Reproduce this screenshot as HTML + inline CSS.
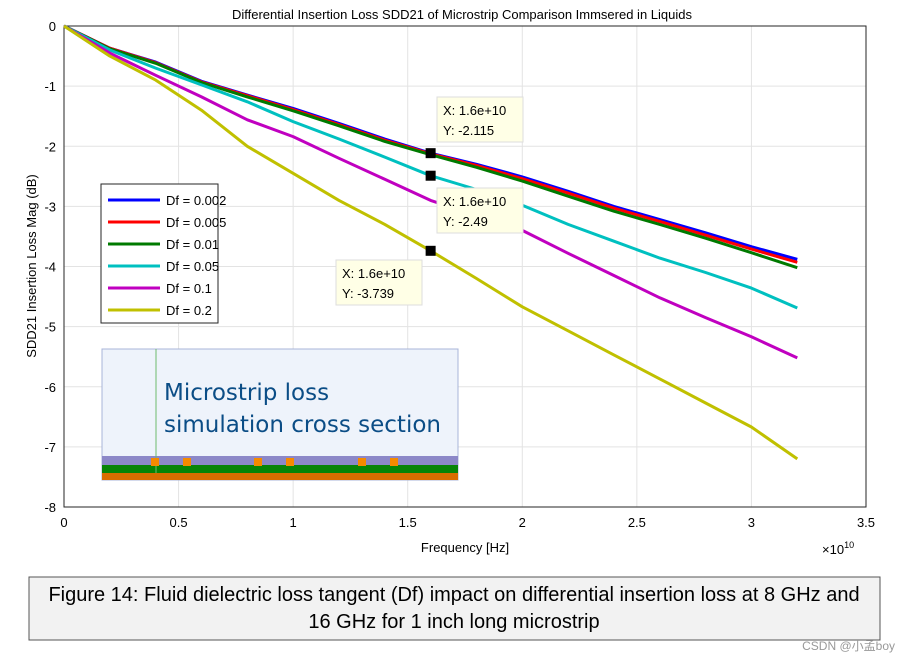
<!DOCTYPE html>
<html><head><meta charset="utf-8"><style>
body{margin:0;background:#fff;width:898px;height:660px;overflow:hidden;font-family:"Liberation Sans",sans-serif}
svg text{font-family:"Liberation Sans","Noto Sans CJK SC",sans-serif}
</style></head><body>
<svg width="898" height="660" xmlns="http://www.w3.org/2000/svg">
<g id="grid"></g>
<g id="inset">
<rect x="102" y="349" width="356" height="131" fill="#eef3fb" stroke="#a8b4d8"/>
<rect x="102" y="456" width="356" height="9" fill="#8c88c8"/>
<rect x="102" y="465" width="356" height="8" fill="#078407"/>
<rect x="102" y="473" width="356" height="7" fill="#d96d00"/>
<line x1="156" y1="349" x2="156" y2="473" stroke="#6dbb6d"/>
<g fill="#f58a00"><rect x="151" y="458" width="8" height="8"/><rect x="183" y="458" width="8" height="8"/><rect x="254" y="458" width="8" height="8"/><rect x="286" y="458" width="8" height="8"/><rect x="358" y="458" width="8" height="8"/><rect x="390" y="458" width="8" height="8"/></g>
<text x="164" y="400" font-size="23" fill="#0b4d86" style="font-family:'DejaVu Sans',sans-serif">Microstrip loss</text>
<text x="164" y="432" font-size="23" fill="#0b4d86" style="font-family:'DejaVu Sans',sans-serif">simulation cross section</text>
</g>
<g id="series"></g>
<g id="legend"></g>
<g id="tips"></g>
<text x="462" y="19" font-size="13" text-anchor="middle">Differential Insertion Loss SDD21 of Microstrip Comparison Immsered in Liquids</text>
<text x="465" y="552" font-size="13" text-anchor="middle">Frequency [Hz]</text>
<text x="36" y="266" font-size="13" text-anchor="middle" transform="rotate(-90 36 266)">SDD21 Insertion Loss Mag (dB)</text>
<text x="822" y="554" font-size="13">×10<tspan dy="-6" font-size="9">10</tspan></text>
<rect x="29" y="577" width="851" height="63" fill="#f2f2f2" stroke="#555"/>
<text x="454" y="601" font-size="20" text-anchor="middle">Figure 14: Fluid dielectric loss tangent (Df) impact on differential insertion loss at 8 GHz and</text>
<text x="454" y="628" font-size="20" text-anchor="middle">16 GHz for 1 inch long microstrip</text>
<text x="895" y="650" font-size="12" fill="#999" text-anchor="end">CSDN @小孟boy</text>
</svg>
<script>
const xs=[0,0.2,0.4,0.6,0.8,1.0,1.2,1.4,1.6,1.8,2.0,2.2,2.4,2.6,2.8,3.0,3.2];
const s002=[0,-0.37,-0.6,-0.92,-1.15,-1.37,-1.62,-1.88,-2.115,-2.3,-2.51,-2.75,-3.0,-3.22,-3.44,-3.67,-3.88];
const s005=[0,-0.37,-0.61,-0.93,-1.16,-1.39,-1.64,-1.9,-2.125,-2.32,-2.54,-2.78,-3.03,-3.25,-3.48,-3.71,-3.93];
const s01=[0,-0.38,-0.62,-0.94,-1.18,-1.41,-1.66,-1.92,-2.14,-2.35,-2.58,-2.83,-3.08,-3.3,-3.53,-3.77,-4.02];
const s05=[0,-0.4,-0.7,-0.98,-1.26,-1.59,-1.88,-2.18,-2.49,-2.72,-2.98,-3.3,-3.58,-3.86,-4.1,-4.36,-4.69];
const s1=[0,-0.45,-0.82,-1.18,-1.56,-1.84,-2.2,-2.55,-2.9,-3.15,-3.4,-3.78,-4.15,-4.52,-4.85,-5.17,-5.52];
const s2=[0,-0.5,-0.9,-1.4,-2.0,-2.45,-2.9,-3.3,-3.739,-4.2,-4.67,-5.07,-5.47,-5.87,-6.27,-6.67,-7.2];
const labels=["Df = 0.002","Df = 0.005","Df = 0.01","Df = 0.05","Df = 0.1","Df = 0.2"];
const colors=["#0000ff","#ff0000","#007a00","#00c0c0","#c000c0","#c0c000"];
const xTicks=[0,0.5,1,1.5,2,2.5,3,3.5];
const xTickLabels=["0","0.5","1","1.5","2","2.5","3","3.5"];
const yTicks=[0,-1,-2,-3,-4,-5,-6,-7,-8];
const tipX=[1.6,1.6,1.6];
const tipY=[-2.115,-2.49,-3.739];
const NS="http://www.w3.org/2000/svg";
const X=v=>64+v*(802/3.5), Y=v=>26-v*(481/8);
function mk(p,t,a){const e=document.createElementNS(NS,t);for(const k in a)e.setAttribute(k,a[k]);p.appendChild(e);return e;}
const g=document.getElementById('grid');
mk(g,'rect',{x:64,y:26,width:802,height:481,fill:'#fff',stroke:'#262626'});
xTicks.forEach((t,i)=>{
 const l=mk(g,'line',{x1:X(t),x2:X(t),y1:26,y2:507,stroke:'#e3e3e3'});
 
 
 const tx=mk(g,'text',{x:X(t),y:527,'font-size':13,'text-anchor':'middle'});tx.textContent=xTickLabels[i];
 
 
});
yTicks.forEach(t=>{
 const l=mk(g,'line',{x1:64,x2:866,y1:Y(t),y2:Y(t),stroke:'#e3e3e3'});
 
 
 const tx=mk(g,'text',{x:56,y:Y(t)+5,'font-size':13,'text-anchor':'end'});tx.textContent=String(t);
 
 
});
mk(g,'rect',{x:64,y:26,width:802,height:481,fill:'none',stroke:'#262626'});
const sg=document.getElementById('series');
[s002,s005,s01,s05,s1,s2].forEach((s,i)=>{
 const pts=s.map((v,j)=>X(xs[j]).toFixed(1)+','+Y(v).toFixed(1)).join(' ');
 const p=mk(sg,'polyline',{points:pts,fill:'none',stroke:colors[i],'stroke-width':3,'stroke-linejoin':'round'});
 
 
});
const lg=document.getElementById('legend');
mk(lg,'rect',{x:101,y:184,width:117,height:139,fill:'#fff',stroke:'#262626'});
labels.forEach((l,i)=>{
 const y=200+i*22;
 mk(lg,'line',{x1:108,x2:160,y1:y,y2:y,stroke:colors[i],'stroke-width':3});
 const t=mk(lg,'text',{x:166,y:y+5,'font-size':13});t.textContent=l;
 
 
});
const tg=document.getElementById('tips');
const boxPos=[[437,97],[437,188],[336,260]];
tipX.forEach((x,i)=>{
 const m=mk(tg,'rect',{x:X(x)-5,y:Y(tipY[i])-5,width:10,height:10,fill:'#000'});
 
 
 const [bx,by]=boxPos[i];
 const b=mk(tg,'rect',{x:bx,y:by,width:86,height:45,fill:'#ffffe6',stroke:'#ddd'});
 
 
 const t1=mk(tg,'text',{x:bx+6,y:by+18,'font-size':13});t1.textContent='X: 1.6e+10';
 const t2=mk(tg,'text',{x:bx+6,y:by+38,'font-size':13});t2.textContent='Y: '+tipY[i];
});
</script>
</body></html>
